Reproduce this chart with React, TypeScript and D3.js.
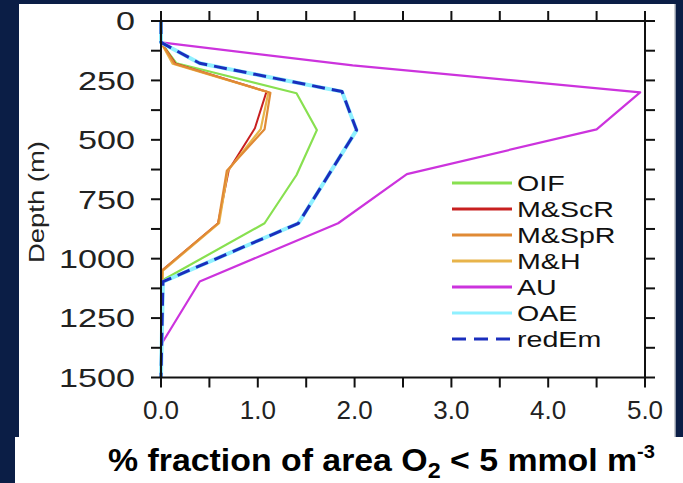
import React from 'react';
import * as d3 from 'd3';

const W = 683;
const H = 483;

// tick values
const xTicks = [0, 1, 2, 3, 4, 5];
const xMinor = [0, 0.5, 1, 1.5, 2, 2.5, 3, 3.5, 4, 4.5, 5];
const yTicks = [0, 250, 500, 750, 1000, 1250, 1500];
const yMinor = [0, 125, 250, 375, 500, 625, 750, 875, 1000, 1125, 1250, 1375, 1500];

// profiles as [fraction %, depth m]
const oif: [number, number][] = [[0, 0], [0, 90], [0.16, 178], [1.40, 304], [1.61, 459], [1.40, 648], [1.07, 851], [0.02, 1090], [0, 1500]];
const mScR: [number, number][] = [[0, 0], [0, 90], [0.15, 180], [1.09, 297], [0.97, 451], [0.70, 627], [0.59, 851], [0.01, 1050], [0, 1500]];
const mSpR: [number, number][] = [[0, 0], [0, 90], [0.14, 180], [1.13, 302], [1.07, 455], [0.68, 630], [0.59, 851], [0.01, 1050], [0, 1500]];
const mH: [number, number][] = [[0, 0], [0, 90], [0.12, 180], [1.11, 300], [1.03, 455], [0.69, 630], [0.60, 851], [0.02, 1050], [0, 1500]];
const au: [number, number][] = [[0, 0], [0, 90], [1.98, 187], [4.95, 300], [4.5, 456], [2.54, 644], [1.83, 851], [0.40, 1096], [0.01, 1356]];
const oae: [number, number][] = [[0, 0], [0, 90], [0.40, 178], [1.87, 297], [2.02, 459], [1.42, 851], [0.02, 1097], [0, 1500]];
const redEm: [number, number][] = [[0, 0], [0, 90], [0.40, 178], [1.87, 297], [2.02, 459], [1.42, 851], [0.02, 1097], [0, 1500]];

const legendNames = ['OIF', 'M&ScR', 'M&SpR', 'M&H', 'AU', 'OAE', 'redEm'];

// drawing order (bottom to top)
const series = [
  { name: 'AU', data: au, color: '#cc33dd', w: 2.2, dash: '' },
  { name: 'OIF', data: oif, color: '#88e050', w: 2.2, dash: '' },
  { name: 'M&ScR', data: mScR, color: '#c82020', w: 2, dash: '' },
  { name: 'M&H', data: mH, color: '#e8b44a', w: 2.2, dash: '' },
  { name: 'M&SpR', data: mSpR, color: '#e08a35', w: 2.2, dash: '' },
  { name: 'OAE', data: oae, color: '#8ff0ff', w: 4, dash: '' },
  { name: 'redEm', data: redEm, color: '#1a2ebd', w: 3, dash: '13 7' },
];

export default function App() {
  const x = d3.scaleLinear().domain([0, 5]).range([161, 645]);
  const y = d3.scaleLinear().domain([0, 1500]).range([21, 377.5]);
  const line = d3.line<[number, number]>()
    .x(d => x(d[0]))
    .y(d => y(d[1]));

  const [x0, x1] = x.range();
  const [y0, y1] = y.range();
  const tl = 10;
  const font = "'Liberation Sans', Arial, sans-serif";
  const byName = (n: string) => series.find(s => s.name === n)!;

  return (
    <svg width={W} height={H} style={{ position: 'absolute', left: 0, top: 0 }}>
      <rect x={0} y={0} width={W} height={H} fill="#0b1e46" />
      <rect x={19} y={4} width={656} height={434} fill="#ffffff" />
      <rect x={15} y={437} width={668} height={46} fill="#ffffff" />
      <line x1={675} x2={675} y1={4} y2={437} stroke="#b8bcc4" strokeWidth={1.5} />

      {/* data lines */}
      <g fill="none" strokeLinejoin="round">
        {series.map(s => (
          <path key={s.name} d={line(s.data) || ''} stroke={s.color} strokeWidth={s.w}
            strokeDasharray={s.dash || undefined} />
        ))}
      </g>

      {/* frame and ticks */}
      <g stroke="#111" strokeWidth={2}>
        <rect x={x0} y={y0} width={x1 - x0} height={y1 - y0} fill="none" />
        {xMinor.map(v => (
          <g key={'xt' + v}>
            <line x1={x(v)} x2={x(v)} y1={y1} y2={y1 + tl} />
            <line x1={x(v)} x2={x(v)} y1={y0} y2={y0 - tl} />
          </g>
        ))}
        {yMinor.map(v => (
          <g key={'yt' + v}>
            <line x1={x0} x2={x0 - tl} y1={y(v)} y2={y(v)} />
            <line x1={x1} x2={x1 + tl} y1={y(v)} y2={y(v)} />
          </g>
        ))}
      </g>

      {/* tick labels */}
      <g fontFamily={font} fontSize={26} fill="#222">
        {xTicks.map(v => (
          <text key={'xl' + v} x={x(v)} y={419} textAnchor="middle">{d3.format('.1f')(v)}</text>
        ))}
        {yTicks.map(v => {
          const s = String(v);
          return (
            <text key={'yl' + v} x={135} y={y(v)} dy="0.36em" textAnchor="end"
              textLength={s.length * 19} lengthAdjust="spacingAndGlyphs">{s}</text>
          );
        })}
      </g>

      <text transform="translate(44,202) rotate(-90)" fontFamily={font} fontSize={22} fill="#222"
        textAnchor="middle" textLength={122} lengthAdjust="spacingAndGlyphs">Depth (m)</text>

      {/* legend */}
      <g fontFamily={font} fontSize={22} fill="#111">
        {legendNames.map((n, i) => {
          const s = byName(n);
          const ry = 183 + i * 26;
          return (
            <g key={'lg' + n}>
              <line x1={452} x2={512} y1={ry} y2={ry} stroke={s.color} strokeWidth={3}
                strokeDasharray={s.name === 'redEm' ? '14 8' : undefined} />
              <text transform={`translate(517,${ry}) scale(1.3,1)`} dy="0.36em">{n}</text>
            </g>
          );
        })}
      </g>

      {/* x-axis title */}
      <text x={108} y={471} fontFamily="'Liberation Sans Narrow', 'Arial Narrow', 'Liberation Sans', sans-serif"
        fontWeight="bold" fontSize={32} fill="#000" textLength={547} lengthAdjust="spacingAndGlyphs">
        % fraction of area O<tspan fontSize={22} dy={7}>2</tspan><tspan dy={-7}> &lt; 5 mmol m</tspan><tspan fontSize={19} dy={-13}>-3</tspan>
      </text>
    </svg>
  );
}
